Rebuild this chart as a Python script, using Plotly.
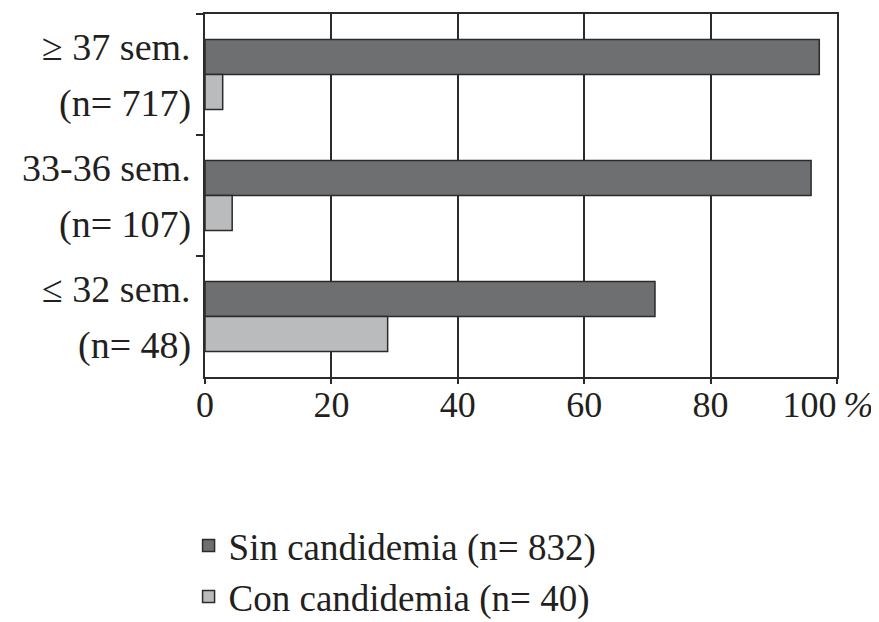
import plotly.graph_objects as go

# Data
cat_line1 = ["≥ 37 sem.", "33-36 sem.", "≤ 32 sem."]
cat_line2 = ["(n= 717)", "(n= 107)", "(n= 48)"]
sin_candidemia = [97.2, 95.9, 71.2]
con_candidemia = [2.8, 4.3, 28.9]
series_names = ["Sin candidemia (n= 832)", "Con candidemia (n= 40)"]
x_tickvals = [0, 20, 40, 60, 80, 100]
x_ticktext = ["0", "20", "40", "60", "80", "100\u2009<i>%</i>\u00a0\u00a0"]

FONT = "Liberation Serif"
INK = "#231f20"
LINE = "#2b2b2b"

fig = go.Figure()
fig.add_trace(go.Bar(
    y=cat_line1, x=sin_candidemia, orientation="h", name=series_names[0],
    marker=dict(color="#6e6f71", line=dict(color=LINE, width=1.5)),
    legendgroup="a",
))
fig.add_trace(go.Bar(
    y=cat_line1, x=con_candidemia, orientation="h", name=series_names[1],
    marker=dict(color="#babbbd", line=dict(color=LINE, width=1.5)),
    legendgroup="b",
))

for c, l1, l2 in zip(cat_line1, cat_line1, cat_line2):
    fig.add_annotation(x=0, xref="paper", y=c, yref="y", text=l1, showarrow=False,
                       xanchor="right", yanchor="middle", xshift=-12, yshift=28,
                       font=dict(family=FONT, size=38, color=INK))
    fig.add_annotation(x=0, xref="paper", y=c, yref="y", text=l2, showarrow=False,
                       xanchor="right", yanchor="middle", xshift=-12, yshift=-29,
                       font=dict(family=FONT, size=38, color=INK))

fig.update_layout(
    width=871, height=614,
    margin=dict(l=197, r=42, t=6, b=245, autoexpand=False),
    paper_bgcolor="white", plot_bgcolor="white",
    barmode="group", bargap=0.42, bargroupgap=0.0,
    font=dict(family=FONT, color=INK),
    showlegend=True,
    legend=dict(x=-0.026, y=-0.380, xanchor="left", yanchor="top",
                font=dict(family=FONT, size=37, color=INK),
                traceorder="grouped", tracegroupgap=0,
                bgcolor="rgba(0,0,0,0)"),
    xaxis=dict(range=[0, 100], tickvals=x_tickvals, ticktext=x_ticktext,
               showgrid=True, gridcolor=LINE, gridwidth=1.5,
               showline=True, linecolor=LINE, linewidth=1.5, mirror=True,
               ticks="outside", ticklen=5, tickcolor=LINE, tickwidth=1.5,
               tickfont=dict(family=FONT, size=36, color=INK),
               ticklabeloverflow="allow", ticklabelstandoff=-10,
               zeroline=False, fixedrange=True),
    yaxis=dict(type="category", categoryorder="array", categoryarray=cat_line1,
               autorange="reversed", showticklabels=False,
               showline=True, linecolor=LINE, linewidth=1.5, mirror=True,
               ticks="outside", tickson="boundaries", ticklen=7,
               tickcolor=LINE, tickwidth=1.5, showgrid=False, zeroline=False),
)

fig.write_html("out.html")
